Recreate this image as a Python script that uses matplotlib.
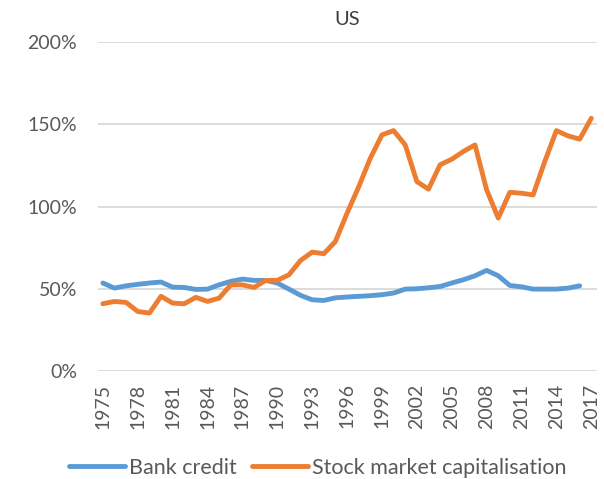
import matplotlib
matplotlib.use("Agg")
import matplotlib.pyplot as plt
from matplotlib.ticker import FuncFormatter

years = list(range(1975, 2018))

bank_credit = [
    53.5, 50.4, 51.8, 52.7, 53.5, 54.1, 51.0, 50.8, 49.6, 49.8,
    52.4, 54.5, 55.9, 55.1, 55.1, 53.5, 49.8, 46.0, 43.3, 42.9,
    44.5, 45.0, 45.4, 45.8, 46.4, 47.4, 49.8, 50.0, 50.6, 51.4,
    53.5, 55.5, 57.9, 61.2, 57.9, 52.0, 51.2, 49.8, 49.8, 49.8,
    50.4, 51.8, None,
]

stock_market = [
    40.9, 42.3, 41.7, 36.2, 35.2, 45.4, 41.3, 40.9, 44.8, 42.3,
    44.3, 52.4, 52.4, 50.8, 55.1, 55.1, 58.5, 67.2, 72.3, 71.3,
    78.8, 96.0, 112.0, 129.4, 143.6, 146.2, 137.5, 115.2, 110.6, 125.4,
    128.8, 133.5, 137.5, 110.2, 93.0, 108.7, 108.1, 107.1, 127.4, 146.2,
    143.0, 141.0, 153.7,
]

tick_years = list(range(1975, 2018, 3))
y_ticks = [0, 50, 100, 150, 200]

plt.rcParams["font.family"] = ["Lato", "DejaVu Sans"]

fig = plt.figure(figsize=(6.04, 4.79), dpi=100)
ax = fig.add_axes([0.162, 0.2255, 0.826, 0.6865])

bank_x = [y for y, v in zip(years, bank_credit) if v is not None]
bank_y = [v for v in bank_credit if v is not None]

ax.plot(bank_x, bank_y, color="#5B9BD5", lw=3.5, solid_capstyle="round",
        solid_joinstyle="round", label="Bank credit")
ax.plot(years, stock_market, color="#ED7D31", lw=3.5, solid_capstyle="round",
        solid_joinstyle="round", label="Stock market capitalisation")

ax.set_xlim(1974.57, 2017.47)
ax.set_ylim(0, 200)
ax.set_yticks(y_ticks)
ax.yaxis.set_major_formatter(FuncFormatter(lambda v, p: f"{v:.0f}%"))
ax.set_xticks(tick_years)
ax.set_xticklabels([str(y) for y in tick_years], rotation=90)

ax.grid(axis="y", color="#D9D9D9", lw=1.3)
ax.set_axisbelow(True)
for s in ax.spines.values():
    s.set_visible(False)
ax.tick_params(axis="both", length=0, colors="#595959", labelsize=14)
ax.tick_params(axis="y", pad=15)
ax.tick_params(axis="x", pad=9)

ax.set_title("US", fontsize=14.5, color="#404040", pad=12)

fig.legend(loc="center", bbox_to_anchor=(0.526, 0.023), ncol=2,
           frameon=False, fontsize=15.5, handlelength=2.6,
           handletextpad=0.2, columnspacing=0.7, labelcolor="#595959")

fig.savefig("out.png", dpi=100)
